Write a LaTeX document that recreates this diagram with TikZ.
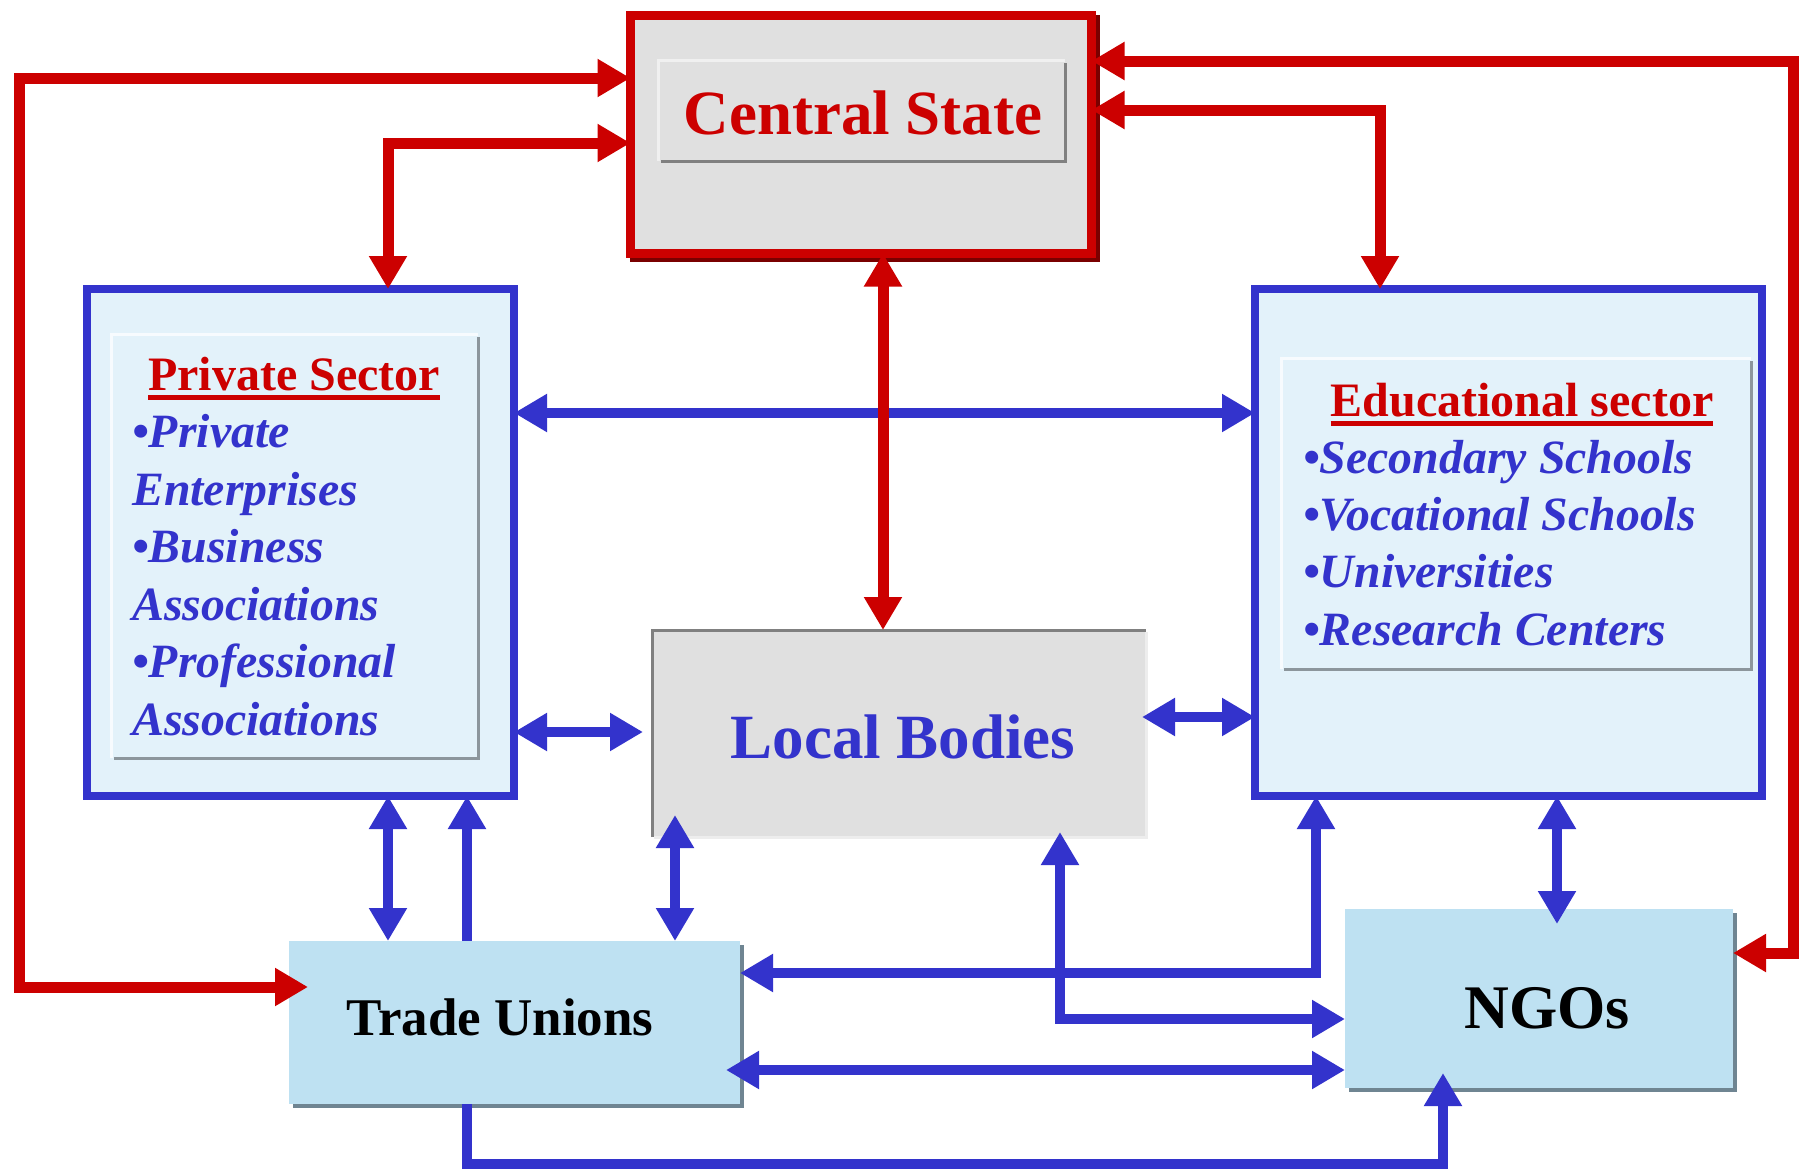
\documentclass[tikz,border=0pt]{standalone}
\usepackage{fontspec}
\setmainfont{Liberation Serif}
\usetikzlibrary{arrows.meta,calc}
\definecolor{myred}{HTML}{CC0000}
\definecolor{myblue}{HTML}{3333CC}
\definecolor{darkred}{HTML}{7A0000}
\definecolor{lightblue}{HTML}{E3F2FA}
\definecolor{midblue}{HTML}{BEE1F2}
\definecolor{grayfill}{HTML}{E0E0E0}
\definecolor{bevelgray}{HTML}{8C969C}
\definecolor{shadowc}{HTML}{6F8592}
\newcommand\myul[1]{\setbox0\hbox{#1}\rlap{\rule[-10pt]{\wd0}{5pt}}\box0}
\begin{document}
\begin{tikzpicture}[x=1pt,y=-1pt,
  >={Triangle[length=33pt,width=36pt]},
  rbox/.style={rectangle, inner sep=0pt, outer sep=0pt},
  redl/.style={draw=myred, line width=11pt},
  bluel/.style={draw=myblue, line width=10.5pt},
  hilite/.style={line width=3pt},
  titlefont/.style={font=\bfseries\fontsize{48}{48}\selectfont, text=myred, inner sep=0pt},
  itemfont/.style={font=\bfseries\itshape\fontsize{47.8}{47.8}\selectfont, text=myblue, inner sep=0pt, anchor=base west}]
\useasboundingbox (0,0) rectangle (1800,1170);
\fill[white] (0,0) rectangle (1800,1170);

% ---------- Central State ----------
\fill[darkred] (630,15) rectangle (1100,262);
\node[rbox, fill=grayfill, draw=myred, line width=9pt, minimum width=461pt, minimum height=238pt] (cs) at (861,134.5) {};
\node[rbox, fill=grayfill, minimum width=407pt, minimum height=101pt] (csi) at (861.5,110.5) {};
\draw[hilite, draw=white!94!black] (csi.south west) |- (csi.north east);
\draw[hilite, draw=gray] ([xshift=3pt]csi.south west) -| ([yshift=-3pt]csi.north east);
\node[anchor=base, inner sep=0pt, text=myred, font=\bfseries\fontsize{63}{63}\selectfont] (cst) at (863,134) {Central State};

% ---------- Private Sector ----------
\node[rbox, fill=lightblue, draw=myblue, line width=8pt, minimum width=427pt, minimum height=507pt] (ps) at (300.5,542.5) {};
\node[rbox, fill=lightblue, minimum width=367pt, minimum height=424pt] (psi) at (294.5,546) {};
\draw[hilite, draw=white!70!lightblue] (psi.south west) |- (psi.north east);
\draw[hilite, draw=bevelgray] ([xshift=3pt]psi.south west) -| ([yshift=-3pt]psi.north east);
\node[titlefont, anchor=base] (pst) at (294,390) {\myul{Private Sector}};
\foreach \t [count=\i] in {{\textbullet Private},{Enterprises},{\textbullet Business},{Associations},{\textbullet Professional},{Associations}}
  \node[itemfont] (pi\i) at (132,{390+57.5*\i}) {\t};

% ---------- Educational sector ----------
\node[rbox, fill=lightblue, draw=myblue, line width=8pt, minimum width=507pt, minimum height=507pt] (ed) at (1508.5,542.5) {};
\node[rbox, fill=lightblue, minimum width=470pt, minimum height=311pt] (edi) at (1516,513.5) {};
\draw[hilite, draw=white!70!lightblue] (edi.south west) |- (edi.north east);
\draw[hilite, draw=bevelgray] ([xshift=3pt]edi.south west) -| ([yshift=-3pt]edi.north east);
\node[titlefont, anchor=base] (edt) at (1522,416) {\myul{Educational sector}};
\foreach \t [count=\i] in {{\textbullet Secondary Schools},{\textbullet Vocational Schools},{\textbullet Universities},{\textbullet Research Centers}}
  \node[itemfont] (ei\i) at (1303,{416+57.3*\i}) {\t};

% ---------- Local Bodies ----------
\node[rbox, fill=grayfill, minimum width=494pt, minimum height=207pt] (lb) at (899,733.5) {};
\draw[hilite, draw=white!93!black] ([xshift=2pt]lb.south west) -| ([yshift=-2pt]lb.north east);
\draw[hilite, draw=gray] (lb.south west) |- (lb.north east);
\node[anchor=base, inner sep=0pt, text=myblue, font=\bfseries\fontsize{63}{63}\selectfont] (lbt) at (903,758) {Local Bodies};

% ---------- Trade Unions ----------
\fill[shadowc] (293,945) rectangle (744,1108);
\node[rbox, fill=midblue, minimum width=451pt, minimum height=163pt] (tu) at (514.5,1022.5) {};
\node[anchor=base, inner sep=0pt, text=black, font=\bfseries\fontsize{53}{53}\selectfont] (tut) at (500,1035) {Trade Unions};

% ---------- NGOs ----------
\fill[shadowc] (1349,913) rectangle (1737,1092);
\node[rbox, fill=midblue, minimum width=388pt, minimum height=179pt] (ng) at (1539,998.5) {};
\node[anchor=base, inner sep=0pt, text=black, font=\bfseries\fontsize{62}{62}\selectfont] (ngt) at (1547,1028) {NGOs};

% ---------- bend points ----------
\coordinate (r1a) at (19,78);
\coordinate (r1b) at (19,987);
\coordinate (r2) at (388,143);
\coordinate (r3) at (883,0);
\coordinate (r4) at (1380,110);
\coordinate (r5a) at (1793,61);
\coordinate (r5b) at (1793,953);
\coordinate (b6) at (0,413);
\coordinate (b7) at (0,732);
\coordinate (b8) at (0,717);
\coordinate (b9) at (388,0);
\coordinate (b10) at (467,0);
\coordinate (b11) at (675,0);
\coordinate (b12) at (1316,973);
\coordinate (b13) at (1060,1019);
\coordinate (b14) at (0,1070);
\coordinate (b15) at (1557,0);
\coordinate (b16a) at (467,1164);
\coordinate (b16b) at (1443,1164);

% ---------- blue connectors ----------
\draw[bluel,<->] (ps.east |- b6) -- (ed.west |- b6);
\draw[bluel,<->, shorten >=9pt] (ps.east |- b7) -- (lb.west |- b7);
\draw[bluel,<->, shorten <=-4pt] (lb.east |- b8) -- (ed.west |- b8);
\draw[bluel,<->] (ps.south -| b9) -- (tu.north -| b9);
\draw[bluel,->] (tu.north -| b10) -- (ps.south -| b10);
\draw[bluel,<->, shorten <=-22pt] (lb.south -| b11) -- (tu.north -| b11);
\draw[bluel,<->] (ed.south -| b12) -- (b12) -- (tu.east |- b12);
\draw[bluel,<->, shorten <=-5pt] (lb.south -| b13) -- (b13) -- (ng.west |- b13);
\draw[bluel,<->, shorten <=-14pt] (tu.east |- b14) -- (ng.west |- b14);
\draw[bluel,<->, shorten >=-15pt] (ed.south -| b15) -- (ng.north -| b15);
\draw[bluel,->, shorten >=-15pt] (tu.south -| b16a) -- (b16a) -- (b16b) -- (ng.south -| b16b);

% ---------- red connectors ----------
\draw[redl,<->, shorten >=-19pt] (cs.west |- r1a) -- (r1a) -- (r1b) -- (tu.west |- r1b);
\draw[redl,<->] (cs.west |- r2) -- (r2) -- (r2 |- ps.north);
\draw[redl,<->] (cs.south -| r3) -- (lb.north -| r3);
\draw[redl,<->] (cs.east |- r4) -- (r4) -- (r4 |- ed.north);
\draw[redl,<->] (cs.east |- r5a) -- (r5a) -- (r5b) -- (ng.east |- r5b);
\end{tikzpicture}
\end{document}
